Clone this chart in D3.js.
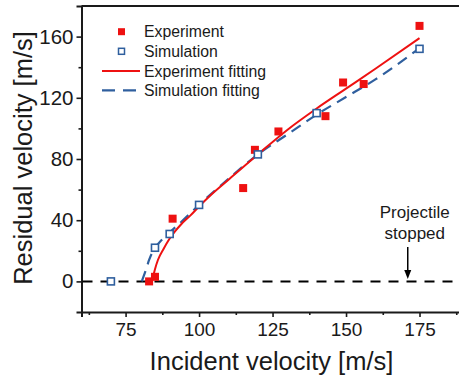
<!DOCTYPE html>
<html>
<head>
<meta charset="utf-8">
<script src="https://cdn.jsdelivr.net/npm/d3@7/dist/d3.min.js"></script>
<style>
  html, body { margin: 0; padding: 0; background: #ffffff; }
  svg { display: block; font-family: "Liberation Sans", Arial, sans-serif; }
</style>
</head>
<body>
<svg id="chart" width="459" height="380"></svg>
<script>
// ---- data ----
const expX = [83, 85, 91, 115, 119, 127, 143, 149, 156, 175];
const expY = [0, 3, 41, 61, 86, 98, 108, 130, 129, 167];
const simX = [70, 85, 90, 100, 120, 140, 175];
const simY = [0, 22, 31, 50, 83, 110, 152];
const expFitX = [84, 85, 86, 88, 90, 94, 97, 100, 104, 110, 120, 130, 140, 150, 160, 175];
const expFitY = [0, 8, 14, 21.5, 28, 37.5, 43, 49, 56.5, 66.5, 83, 99, 113, 126, 139, 159];
const simFitX = [80.5, 82, 83, 85, 87, 90, 94, 100, 110, 120, 130, 140, 150, 160, 174];
const simFitY = [0, 8, 14, 22, 26.5, 32, 39, 50, 67, 83, 96, 109, 120.5, 132, 151];
const xTicks = [75, 100, 125, 150, 175];
const xMinor = [62.5, 87.5, 112.5, 137.5, 162.5, 187.5];
const yTicks = [0, 40, 80, 120, 160];
const yMinor = [20, 60, 100, 140];
const legendLabels = ["Experiment", "Simulation", "Experiment fitting", "Simulation fitting"];
const xTitle = "Incident velocity [m/s]";
const yTitle = "Residual velocity [m/s]";
const noteLines = ["Projectile", "stopped"];
const noteX = 171;

const RED = "#ee1111";
const BLUE = "#2f5f9e";
const INK = "#1a1a1a";

const svg = d3.select("#chart");
const L = 81.5, R = 463.6, T = 6, B = 312;
const x = d3.scaleLinear().domain([60, 190]).range([L, R]);
const y = d3.scaleLinear().domain([-20, 180]).range([B, T]);

// frame top line
svg.append("line").attr("x1", L).attr("x2", 459).attr("y1", T).attr("y2", T)
  .attr("stroke", INK).attr("stroke-width", 2);

// axes
const xAxis = svg.append("g").attr("transform", `translate(0,${B})`)
  .call(d3.axisBottom(x).tickValues(xTicks).tickSize(5).tickPadding(6).tickFormat(d3.format("d")));
const xAxisMinor = svg.append("g").attr("transform", `translate(0,${B})`)
  .call(d3.axisBottom(x).tickValues(xMinor).tickSize(3).tickFormat(""));
const yAxis = svg.append("g").attr("transform", `translate(${L},0)`)
  .call(d3.axisLeft(y).tickValues(yTicks).tickSize(5).tickPadding(3).tickFormat(d3.format("d")));
const yAxisMinor = svg.append("g").attr("transform", `translate(${L},0)`)
  .call(d3.axisLeft(y).tickValues(yMinor).tickSize(3).tickFormat(""));

[xAxis, xAxisMinor, yAxis, yAxisMinor].forEach(g => {
  g.select(".domain").attr("stroke", INK).attr("stroke-width", 2);
  g.selectAll(".tick line").attr("stroke", INK).attr("stroke-width", 1.6);
});
xAxisMinor.select(".domain").remove();
yAxisMinor.select(".domain").remove();
xAxis.selectAll(".tick text").attr("font-size", 19).attr("fill", INK)
  .attr("font-family", "'Liberation Sans', Arial, sans-serif");
yAxis.selectAll(".tick text").attr("font-size", 20.5).attr("fill", INK)
  .attr("font-family", "'Liberation Sans', Arial, sans-serif");

// zero dashed line
svg.append("line").attr("x1", L + 1).attr("x2", 459).attr("y1", y(0)).attr("y2", y(0))
  .attr("stroke", "#000").attr("stroke-width", 2).attr("stroke-dasharray", "10,8");

// fitted curves
const line = d3.line().x(d => x(d[0])).y(d => y(d[1])).curve(d3.curveMonotoneX);
svg.append("path").datum(simFitX.map((v, i) => [v, simFitY[i]]))
  .attr("d", line).attr("fill", "none").attr("stroke", BLUE).attr("stroke-width", 2.2)
  .attr("stroke-dasharray", "11,7");
svg.append("path").datum(expFitX.map((v, i) => [v, expFitY[i]]))
  .attr("d", line).attr("fill", "none").attr("stroke", RED).attr("stroke-width", 2);

// markers
const S = 8;
svg.append("g").selectAll("rect").data(expX.map((v, i) => [v, expY[i]])).join("rect")
  .attr("x", d => x(d[0]) - S / 2).attr("y", d => y(d[1]) - S / 2)
  .attr("width", S).attr("height", S).attr("fill", RED);
const So = 7;
svg.append("g").selectAll("rect").data(simX.map((v, i) => [v, simY[i]])).join("rect")
  .attr("x", d => x(d[0]) - So / 2).attr("y", d => y(d[1]) - So / 2)
  .attr("width", So).attr("height", So).attr("fill", "#fff")
  .attr("stroke", BLUE).attr("stroke-width", 1.6);

// legend
const lg = svg.append("g");
const rowY = [31.7, 51.3, 71, 90.3];
lg.append("rect").attr("x", 118).attr("y", rowY[0] - 3.5).attr("width", 7).attr("height", 7).attr("fill", RED);
lg.append("rect").attr("x", 118.5).attr("y", rowY[1] - 3).attr("width", 6).attr("height", 6)
  .attr("fill", "#fff").attr("stroke", BLUE).attr("stroke-width", 1.5);
lg.append("line").attr("x1", 102).attr("x2", 140).attr("y1", rowY[2]).attr("y2", rowY[2])
  .attr("stroke", RED).attr("stroke-width", 2);
lg.append("line").attr("x1", 102).attr("x2", 140).attr("y1", rowY[3]).attr("y2", rowY[3])
  .attr("stroke", BLUE).attr("stroke-width", 2.2).attr("stroke-dasharray", "13,8");
lg.selectAll("text").data(legendLabels).join("text")
  .attr("x", 144).attr("y", (d, i) => rowY[i] + 5.5)
  .attr("font-size", 15.8).attr("fill", INK).text(d => d);

// annotation
const ax = x(noteX);
svg.append("text").attr("x", ax + 7).attr("text-anchor", "middle")
  .attr("font-size", 17).attr("fill", INK)
  .selectAll("tspan").data(noteLines).join("tspan")
  .attr("x", ax + 7).attr("y", (d, i) => 218 + i * 20.5).text(d => d);
svg.append("line").attr("x1", ax).attr("x2", ax).attr("y1", 247).attr("y2", 272)
  .attr("stroke", "#000").attr("stroke-width", 1.5);
svg.append("path")
  .attr("d", `M${ax - 3.5},${270} L${ax + 3.5},${270} L${ax},${279} Z`).attr("fill", "#000");

// axis titles
svg.append("text").attr("x", (148 + 395) / 2).attr("y", 370).attr("text-anchor", "middle")
  .attr("font-size", 25.5).attr("fill", INK).text(xTitle);
svg.append("text").attr("transform", `translate(32,158) rotate(-90)`).attr("text-anchor", "middle")
  .attr("font-size", 25.5).attr("fill", INK).text(yTitle);
</script>
</body>
</html>
